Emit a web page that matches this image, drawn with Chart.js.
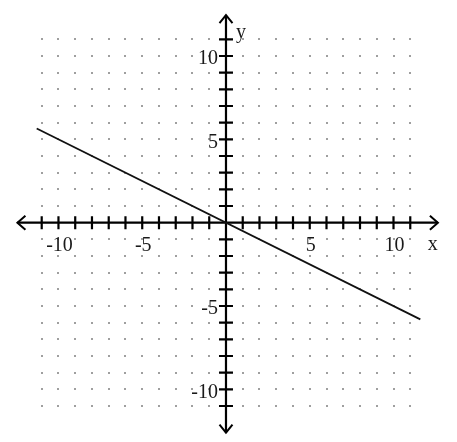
<!DOCTYPE html>
<html>
<head>
<meta charset="utf-8">
<script src="https://cdn.jsdelivr.net/npm/chart.js@4/dist/chart.umd.min.js"></script>
<style>
  html, body { margin: 0; padding: 0; background: #fff; }
  #wrap { width: 457px; height: 442px; position: relative; }
</style>
</head>
<body>
<div id="wrap"><canvas id="c"></canvas></div>
<script>
// ---- data ----
const lineX = [-11.3, 11.6];
const lineY = [5.65, -5.8];
const gridValues = [-11,-10,-9,-8,-7,-6,-5,-4,-3,-2,-1,1,2,3,4,5,6,7,8,9,10,11];
const xTickLabels = [-10, -5, 5, 10];
const yTickLabels = [10, 5, -5, -10];
const xAxisTitle = 'x';
const yAxisTitle = 'y';

const FONT = '20px "Liberation Serif", "DejaVu Serif", serif';

const axesPlugin = {
  id: 'cartesianCross',
  beforeDatasetsDraw(chart) {
    const ctx = chart.ctx;
    const xs = chart.scales.x, ys = chart.scales.y;
    const px = v => xs.getPixelForValue(v);
    const py = v => ys.getPixelForValue(v);
    const ox = px(0), oy = py(0);
    ctx.save();
    // dot grid
    ctx.fillStyle = '#555';
    gridValues.forEach(gx => {
      gridValues.forEach(gy => {
        ctx.fillRect(Math.round(px(gx)) - 0.75, Math.round(py(gy)) - 0.75, 1.5, 1.5);
      });
    });
    // axes lines
    ctx.strokeStyle = '#000';
    ctx.lineWidth = 2.2;
    ctx.lineCap = 'butt';
    ctx.beginPath();
    ctx.moveTo(px(-12.45), oy); ctx.lineTo(px(12.65), oy);
    ctx.moveTo(ox, py(12.45)); ctx.lineTo(ox, py(-12.6));
    ctx.stroke();
    // arrowheads (open chevrons)
    ctx.lineWidth = 2;
    ctx.beginPath();
    const lx = px(-12.45), rx = px(12.65), ty = py(12.45), by = py(-12.6);
    ctx.moveTo(lx + 8, oy - 7); ctx.lineTo(lx, oy); ctx.lineTo(lx + 8, oy + 7);
    ctx.moveTo(rx - 8, oy - 7); ctx.lineTo(rx, oy); ctx.lineTo(rx - 8, oy + 7);
    ctx.moveTo(ox - 6.5, ty + 8); ctx.lineTo(ox, ty); ctx.lineTo(ox + 6.5, ty + 8);
    ctx.moveTo(ox - 6.5, by - 8); ctx.lineTo(ox, by); ctx.lineTo(ox + 6.5, by - 8);
    ctx.stroke();
    // tick marks
    ctx.lineWidth = 2.2;
    ctx.beginPath();
    gridValues.forEach(v => {
      ctx.moveTo(px(v), oy - 6.5); ctx.lineTo(px(v), oy + 6.5);
      ctx.moveTo(ox - 7, py(v)); ctx.lineTo(ox + 7, py(v));
    });
    ctx.stroke();
    // tick labels
    ctx.fillStyle = '#1a1a1a';
    ctx.font = FONT;
    ctx.textAlign = 'center';
    ctx.textBaseline = 'middle';
    xTickLabels.forEach(v => {
      ctx.fillText(String(v), px(v) + 1, oy + 23);
    });
    ctx.textAlign = 'right';
    yTickLabels.forEach(v => {
      ctx.fillText(String(v), ox - 8, py(v) + 3);
    });
    // axis titles
    ctx.textAlign = 'left';
    ctx.textBaseline = 'alphabetic';
    ctx.fillText(xAxisTitle, px(12.05), oy + 27);
    ctx.fillText(yAxisTitle, ox + 10, py(11.1));
    ctx.restore();
  }
};

new Chart(document.getElementById('c'), {
  type: 'scatter',
  data: {
    datasets: [{
      data: lineX.map((x, i) => ({ x: x, y: lineY[i] })),
      showLine: true,
      borderColor: '#111',
      borderWidth: 1.8,
      pointRadius: 0,
      fill: false
    }]
  },
  options: {
    responsive: true,
    maintainAspectRatio: false,
    animation: false,
    layout: { padding: 0 },
    plugins: { legend: { display: false }, tooltip: { enabled: false } },
    scales: {
      x: { type: 'linear', min: -13.49, max: 13.79, display: false },
      y: { type: 'linear', min: -13.16, max: 13.36, display: false }
    }
  },
  plugins: [axesPlugin]
});
</script>
</body>
</html>
